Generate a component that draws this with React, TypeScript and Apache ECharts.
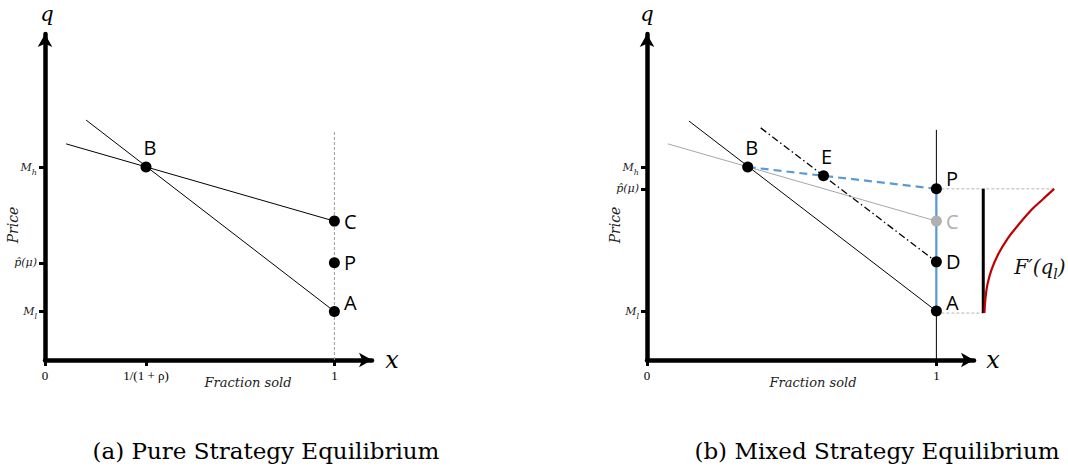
import React, { useEffect, useRef } from 'react';
import * as echarts from 'echarts';

// ---------- data ----------
const xTicksA = [0, 0.349, 1];
const xTickLabelsA = ['0', '1/(1 + ρ)', '1'];
const yTicksA = [1.49, 2.98, 5.92];
const yTickLabelsA = ['M_l', 'p̂(μ)', 'M_h'];

const xTicksB = [0, 1];
const xTickLabelsB = ['0', '1'];
const yTicksB = [1.5, 5.25, 5.92];
const yTickLabelsB = ['M_l', 'p̂(μ)', 'M_h'];

const aFlatLine = [[0.073, 6.63], [1, 4.26]];
const aSteepLine = [[0.142, 7.36], [1, 1.49]];
const aGuide = [[1, 0], [1, 7.06]];
const aPointNames = ['B', 'C', 'P', 'A'];
const aPointX = [0.349, 1, 1, 1];
const aPointY = [5.92, 4.26, 2.98, 1.49];

const bSteepLine = [[0.145, 7.33], [1, 1.5]];
const bGrayLine = [[0.072, 6.63], [1, 4.26]];
const bDashDotLine = [[0.393, 7.12], [1, 3.01]];
const bVertical = [[1, 0], [1, 7.06]];
const bBlueDashed = [[0.348, 5.92], [1, 5.25]];
const bBlueSolid = [[1, 5.25], [1, 1.5]];
const bPointNames = ['B', 'E', 'P', 'C', 'D', 'A'];
const bPointX = [0.348, 0.61, 1, 1, 1, 1];
const bPointY = [5.92, 5.65, 5.25, 4.26, 3.01, 1.5];

const fTopGuide = [[1, 5.25], [1.407, 5.25]];
const fBottomGuide = [[1, 1.44], [1.166, 1.44]];
const fBar = [[1.162, 5.25], [1.162, 1.44]];
const fCurveX = [1.166, 1.169, 1.176, 1.19, 1.214, 1.245, 1.283, 1.328, 1.369, 1.407];
const fCurveY = [1.44, 1.84, 2.3, 2.76, 3.25, 3.71, 4.14, 4.6, 4.94, 5.25];

const captionA = '(a) Pure Strategy Equilibrium';
const captionB = '(b) Mixed Strategy Equilibrium';

// ---------- styling helpers ----------
const SERIF = 'DejaVu Serif';
const SANS = 'Open Sans';
const BLUE = '#5b9bd5';
const GRAY = '#a6a6a6';

const placements: Record<string, { position: string; offset: number[] }> = {
  aB: { position: 'top', offset: [4, 0] },
  aC: { position: 'right', offset: [0, 0] },
  aP: { position: 'right', offset: [0, 0] },
  aA: { position: 'right', offset: [0, -9] },
  bB: { position: 'top', offset: [4, 0] },
  bE: { position: 'top', offset: [3, 0] },
  bP: { position: 'right', offset: [0, -10] },
  bC: { position: 'right', offset: [0, 0] },
  bD: { position: 'right', offset: [0, 0] },
  bA: { position: 'right', offset: [0, -9] },
};

function mathLabel(s: string) {
  if (s.includes('_')) {
    const [b, sub] = s.split('_');
    return `{i|${b}}{s|${sub}}`;
  }
  return `{i|${s}}`;
}

const mathRich = {
  i: { fontFamily: SERIF, fontStyle: 'italic', fontSize: 11, lineHeight: 18, verticalAlign: 'middle', color: '#222' },
  s: { fontFamily: SERIF, fontStyle: 'italic', fontSize: 8, lineHeight: 18, verticalAlign: 'bottom', color: '#222' },
};

function xAxisCfg(gridIndex: number, ticks: number[], labels: string[]) {
  return {
    type: 'value', gridIndex, min: 0, max: 1.13,
    axisLine: { show: true, onZero: false, symbol: ['none', 'arrow'], symbolSize: [11, 13], lineStyle: { color: '#000', width: 4.5 } },
    axisTick: { show: true, customValues: ticks, length: 6, lineStyle: { color: '#000', width: 3 } },
    axisLabel: {
      show: true, customValues: ticks, margin: 9, fontFamily: 'Liberation Serif', fontSize: 13, color: '#000',
      formatter: (v: number) => labels[ticks.indexOf(v)] ?? '',
    },
    splitLine: { show: false },
  };
}

function yAxisCfg(gridIndex: number, ticks: number[], labels: string[]) {
  return {
    type: 'value', gridIndex, min: 0, max: 10,
    axisLine: { show: true, onZero: false, symbol: ['none', 'arrow'], symbolSize: [11, 13], lineStyle: { color: '#000', width: 4.5 } },
    axisTick: { show: true, customValues: ticks, length: 6, lineStyle: { color: '#000', width: 3 } },
    axisLabel: {
      show: true, customValues: ticks, margin: 8,
      formatter: (v: number) => mathLabel(labels[ticks.indexOf(v)] ?? ''),
      rich: mathRich,
    },
    splitLine: { show: false },
  };
}

function seg(data: number[][], axisIdx: number, color: string, width: number, type: any = 'solid', z = 2) {
  return {
    type: 'line', xAxisIndex: axisIdx, yAxisIndex: axisIdx, data, showSymbol: false, symbol: 'none',
    lineStyle: { color, width, type }, z, silent: true,
  };
}

function points(panel: string, names: string[], xs: number[], ys: number[], axisIdx: number) {
  return {
    type: 'scatter', xAxisIndex: axisIdx, yAxisIndex: axisIdx, symbolSize: 11, z: 10,
    data: names.map((n, i) => {
      const isGray = panel === 'b' && n === 'C';
      const pl = placements[panel + n];
      return {
        name: n, value: [xs[i], ys[i]],
        itemStyle: { color: isGray ? '#b0b0b0' : '#000', opacity: 1 },
        label: {
          show: true, formatter: n, position: pl.position, offset: pl.offset, distance: 4,
          fontFamily: SANS, fontSize: 20, color: isGray ? '#b0b0b0' : '#000',
        },
      };
    }),
  };
}

function mathText(x: number, y: number, text: string, size: number) {
  return {
    type: 'text', x, y,
    style: { text, fontFamily: SERIF, fontStyle: 'italic', fontSize: size, fill: '#000', align: 'center', verticalAlign: 'middle' },
  };
}

export default function App() {
  const ref = useRef<HTMLDivElement>(null);
  useEffect(() => {
    if (!ref.current) return;
    const chart = echarts.init(ref.current, undefined, { renderer: 'svg' });
    const option: any = {
      animation: false,
      backgroundColor: '#fff',
      grid: [
        { left: 45, top: 34, width: 327, height: 326 },
        { left: 647, top: 34, width: 327, height: 326 },
        { left: 647, top: 34, width: 419.6, height: 326 },
      ],
      xAxis: [
        xAxisCfg(0, xTicksA, xTickLabelsA),
        xAxisCfg(1, xTicksB, xTickLabelsB),
        { type: 'value', gridIndex: 2, min: 0, max: 1.45, show: false },
      ],
      yAxis: [
        yAxisCfg(0, yTicksA, yTickLabelsA),
        yAxisCfg(1, yTicksB, yTickLabelsB),
        { type: 'value', gridIndex: 2, min: 0, max: 10, show: false },
      ],
      series: [
        seg(aGuide, 0, '#9a9a9a', 1, [3, 2], 1),
        seg(aFlatLine, 0, '#000', 1),
        seg(aSteepLine, 0, '#000', 1),
        points('a', aPointNames, aPointX, aPointY, 0),

        seg(bVertical, 1, '#000', 1, 'solid', 1),
        seg(bSteepLine, 1, '#000', 1),
        seg(bGrayLine, 1, GRAY, 1),
        seg(bDashDotLine, 1, '#000', 1.3, [7, 3, 1.5, 3]),
        seg(bBlueDashed, 1, BLUE, 2.2, [8, 5], 3),
        seg(bBlueSolid, 1, BLUE, 2.2, 'solid', 3),
        points('b', bPointNames, bPointX, bPointY, 1),

        seg(fTopGuide, 2, '#b5b5b5', 1, [3, 2], 1),
        seg(fBottomGuide, 2, '#b5b5b5', 1, [3, 2], 1),
        seg(fBar, 2, '#000', 3),
        {
          type: 'line', xAxisIndex: 2, yAxisIndex: 2, showSymbol: false, symbol: 'none', smooth: 0.4,
          data: fCurveX.map((x, i) => [x, fCurveY[i]]),
          lineStyle: { color: '#c00000', width: 2.2 },
        },
      ],
      graphic: [
        mathText(47, 14, 'q', 21),
        mathText(647, 14, 'q', 21),
        mathText(392, 360, 'x', 24),
        mathText(993, 360, 'x', 24),
        { type: 'text', x: 13, y: 225, rotation: Math.PI / 2, style: { text: 'Price', fontFamily: SERIF, fontStyle: 'italic', fontSize: 14, fill: '#222', align: 'center', verticalAlign: 'middle' } },
        { type: 'text', x: 615, y: 225, rotation: Math.PI / 2, style: { text: 'Price', fontFamily: SERIF, fontStyle: 'italic', fontSize: 14, fill: '#222', align: 'center', verticalAlign: 'middle' } },
        { type: 'text', x: 248, y: 382, style: { text: 'Fraction sold', fontFamily: SERIF, fontStyle: 'italic', fontSize: 13, fill: '#222', align: 'center', verticalAlign: 'middle' } },
        { type: 'text', x: 813, y: 382, style: { text: 'Fraction sold', fontFamily: SERIF, fontStyle: 'italic', fontSize: 13, fill: '#222', align: 'center', verticalAlign: 'middle' } },
        {
          type: 'text', x: 1040, y: 267,
          style: {
            text: '{i|F′(q}{s|l}{i|)}', align: 'center', verticalAlign: 'middle',
            rich: {
              i: { fontFamily: SERIF, fontStyle: 'italic', fontSize: 20, lineHeight: 28, verticalAlign: 'middle', fill: '#111' },
              s: { fontFamily: SERIF, fontStyle: 'italic', fontSize: 14, lineHeight: 28, verticalAlign: 'bottom', fill: '#111' },
            },
          },
        },
        { type: 'text', x: 266, y: 451, style: { text: captionA, fontFamily: SERIF, fontSize: 23, fill: '#000', align: 'center', verticalAlign: 'middle' } },
        { type: 'text', x: 877, y: 451, style: { text: captionB, fontFamily: SERIF, fontSize: 23, fill: '#000', align: 'center', verticalAlign: 'middle' } },
      ],
    };
    chart.setOption(option);
    return () => chart.dispose();
  }, []);
  return <div ref={ref} style={{ position: 'fixed', left: 0, top: 0, width: 1068, height: 469 }} />;
}
